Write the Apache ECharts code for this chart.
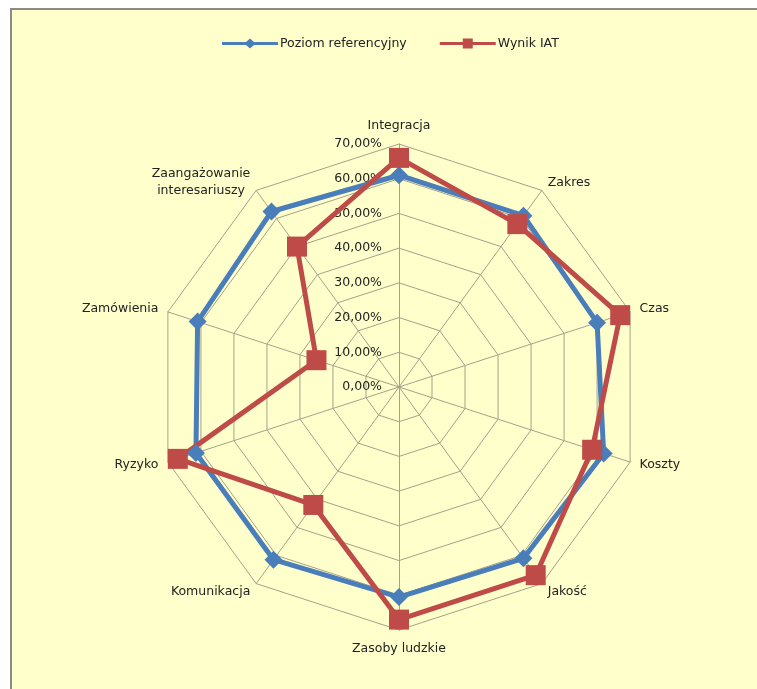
<!DOCTYPE html>
<html>
<head>
<meta charset="utf-8">
<script src="https://cdn.jsdelivr.net/npm/echarts@6/dist/echarts.min.js"></script>
<style>
html,body{margin:0;padding:0;background:#fff;}
#c{width:757px;height:689px;}
</style>
</head>
<body>
<div id="c"></div>
<script>
// Categories in clockwise order starting from the top
const categories = ['Integracja','Zakres','Czas','Koszty','Jakość','Zasoby ludzkie','Komunikacja','Ryzyko','Zamówienia','Zaangażowanie\ninteresariuszy'];
const seriesNames = ['Poziom referencyjny','Wynik IAT'];
const poziomReferencyjny = [61, 61, 60, 62, 61, 60.5, 61.5, 61.5, 61, 62.5];
const wynikIAT = [66, 58, 67, 58.5, 67, 67, 42, 67, 25, 50];
const tickValues = [0, 10, 20, 30, 40, 50, 60, 70];

// ECharts places radar indicators counter-clockwise: reorder to get clockwise layout
function cw(arr){ return [arr[0]].concat(arr.slice(1).reverse()); }

const maxVal = tickValues[tickValues.length-1];
const indicators = cw(categories).map((name, i) => {
  const ind = { name: name, min: 0, max: maxVal };
  if (i === 0) ind.axisLabel = { show: true };
  return ind;
});

const FONT = 'DejaVu Sans';
const FS = 12.5;
const blue = '#4A7EBB';
const red = '#BE4B48';

const iconBlue = 'path://M0,3.6 L24,3.6 L28,0 L32,3.6 L56,3.6 L56,6.4 L32,6.4 L28,10 L24,6.4 L0,6.4 Z';
const iconRed = 'path://M0,3.6 L23,3.6 L23,0 L33,0 L33,3.6 L56,3.6 L56,6.4 L33,6.4 L33,10 L23,10 L23,6.4 L0,6.4 Z';

const chart = echarts.init(document.getElementById('c'));
chart.setOption({
  backgroundColor: '#ffffff',
  animation: false,
  graphic: [
    { type: 'rect', z: -10, shape: { x: 10, y: 8, width: 747, height: 681 }, style: { fill: '#FFFFCC' } },
    { type: 'line', z: -9, shape: { x1: 10, y1: 9, x2: 757, y2: 9 }, style: { stroke: '#8c8a84', lineWidth: 2 } },
    { type: 'line', z: -9, shape: { x1: 11, y1: 8, x2: 11, y2: 689 }, style: { stroke: '#8c8a84', lineWidth: 2 } }
  ],
  legend: {
    top: 32,
    left: 217,
    itemWidth: 56,
    itemHeight: 10,
    itemGap: 33,
    textStyle: { fontFamily: FONT, fontSize: FS, color: '#222', padding: [0, 0, 0, -3] },
    data: [
      { name: seriesNames[0], icon: iconBlue, itemStyle: { color: blue } },
      { name: seriesNames[1], icon: iconRed, itemStyle: { color: red } }
    ]
  },
  radar: {
    center: [399, 387],
    radius: 243,
    shape: 'polygon',
    splitNumber: tickValues.length - 1,
    startAngle: 90,
    nameGap: 10,
    axisName: {
      color: '#222', fontFamily: FONT, fontSize: FS, lineHeight: 17,
      formatter: function (name) {
        if (name.indexOf('\n') >= 0) {
          return name.split('\n').map(s => '{c|' + s + '}').join('\n');
        }
        return name;
      },
      rich: { c: { align: 'center', fontFamily: FONT, fontSize: FS, color: '#222', lineHeight: 17 } }
    },
    axisLine: { lineStyle: { color: '#a5a18a', width: 1 } },
    splitLine: { lineStyle: { color: '#a5a18a', width: 1 } },
    splitArea: { show: false },
    axisTick: { show: false },
    axisLabel: {
      show: false,
      color: '#222',
      fontFamily: FONT,
      fontSize: FS,
      margin: 17,
      formatter: v => v.toFixed(2).replace('.', ',') + '%'
    },
    indicator: indicators
  },
  series: [{
    type: 'radar',
    data: [
      {
        name: seriesNames[0],
        value: cw(poziomReferencyjny),
        symbol: 'diamond',
        symbolSize: 18,
        lineStyle: { color: blue, width: 5 },
        itemStyle: { color: blue }
      },
      {
        name: seriesNames[1],
        value: cw(wynikIAT),
        symbol: 'rect',
        symbolSize: 20,
        lineStyle: { color: red, width: 5 },
        itemStyle: { color: red }
      }
    ]
  }]
});
</script>
</body>
</html>
